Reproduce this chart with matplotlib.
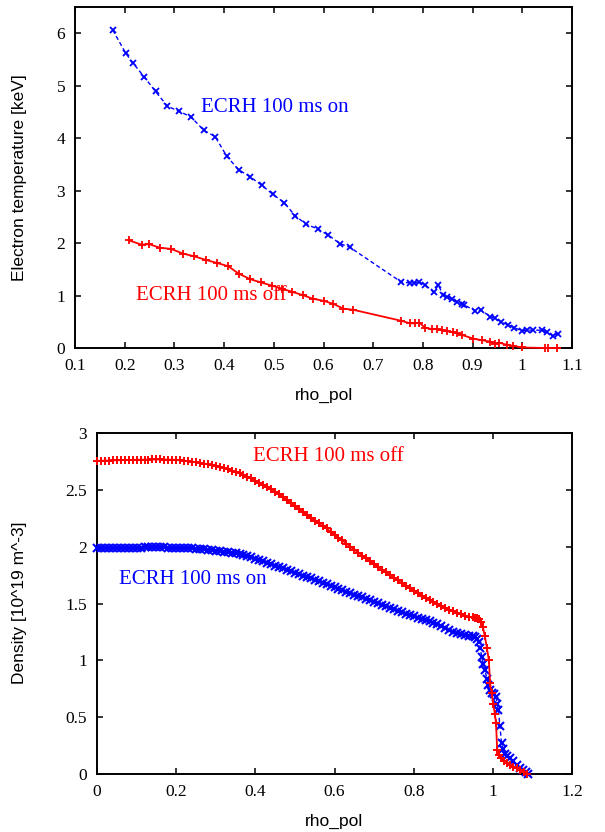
import numpy as np
import matplotlib
matplotlib.use("Agg")
import matplotlib.pyplot as plt

# ---------------- electron temperature profiles ----------------
te_on_rho = [0.176, 0.202, 0.216, 0.239, 0.262, 0.286, 0.309, 0.333, 0.359, 0.382,
             0.405, 0.429, 0.453, 0.476, 0.498, 0.521, 0.543, 0.565, 0.588, 0.610,
             0.633, 0.653, 0.756, 0.774, 0.782, 0.793, 0.804, 0.822, 0.831, 0.841,
             0.849, 0.858, 0.868, 0.878, 0.883, 0.905, 0.916, 0.936, 0.945, 0.957,
             0.971, 0.983, 0.999, 1.009, 1.021, 1.039, 1.049, 1.061, 1.072]
te_on = [6.06, 5.62, 5.44, 5.17, 4.89, 4.61, 4.51, 4.41, 4.15, 4.03,
         3.66, 3.40, 3.26, 3.10, 2.93, 2.77, 2.52, 2.36, 2.27, 2.15,
         1.99, 1.92, 1.26, 1.24, 1.24, 1.25, 1.21, 1.06, 1.20, 1.01,
         0.98, 0.94, 0.88, 0.84, 0.82, 0.71, 0.72, 0.60, 0.57, 0.50,
         0.44, 0.39, 0.33, 0.34, 0.34, 0.34, 0.31, 0.23, 0.27]

te_off_rho = [0.209, 0.234, 0.249, 0.271, 0.293, 0.317, 0.339, 0.363, 0.386, 0.408,
              0.429, 0.453, 0.474, 0.496, 0.517, 0.537, 0.558, 0.578, 0.600, 0.620,
              0.640, 0.659, 0.756, 0.774, 0.784, 0.793, 0.804, 0.818, 0.828, 0.838,
              0.848, 0.860, 0.869, 0.878, 0.901, 0.918, 0.936, 0.945, 0.954, 0.969,
              0.982, 0.999, 1.046, 1.052, 1.069]
te_off = [2.05, 1.97, 1.98, 1.91, 1.89, 1.80, 1.75, 1.68, 1.62, 1.56,
          1.42, 1.31, 1.25, 1.19, 1.13, 1.07, 1.01, 0.94, 0.90, 0.84,
          0.75, 0.73, 0.52, 0.47, 0.47, 0.48, 0.39, 0.36, 0.36, 0.34,
          0.32, 0.30, 0.28, 0.25, 0.18, 0.15, 0.12, 0.08, 0.10, 0.06,
          0.04, 0.01, 0.0, 0.0, 0.0]

# ---------------- density profiles ----------------
core_rho = list(np.round(np.arange(0.0, 0.951, 0.01), 2))

ne_off_core = [2.755, 2.756, 2.757, 2.758, 2.759, 2.760, 2.761, 2.762, 2.763, 2.764,
               2.765, 2.765, 2.766, 2.766, 2.767, 2.767, 2.767, 2.766, 2.766, 2.765,
               2.763, 2.760, 2.757, 2.753, 2.748, 2.743, 2.737, 2.731, 2.724, 2.717,
               2.709, 2.701, 2.692, 2.681, 2.669, 2.657, 2.645, 2.631, 2.617, 2.600,
               2.580, 2.563, 2.545, 2.525, 2.505, 2.483, 2.460, 2.435, 2.410, 2.383,
               2.355, 2.330, 2.305, 2.280, 2.255, 2.230, 2.205, 2.180, 2.160, 2.132,
               2.105, 2.080, 2.055, 2.027, 2.000, 1.974, 1.948, 1.922, 1.897, 1.872,
               1.847, 1.822, 1.798, 1.774, 1.750, 1.726, 1.703, 1.680, 1.657, 1.634,
               1.612, 1.591, 1.570, 1.550, 1.530, 1.512, 1.495, 1.478, 1.462, 1.447,
               1.432, 1.418, 1.405, 1.394, 1.385, 1.378]
ne_off_edge_rho = [0.955, 0.96, 0.965, 0.97, 0.975, 0.98, 0.985, 0.99, 0.993, 0.997,
                   1.001, 1.005, 1.008, 1.011, 1.015, 1.02, 1.027, 1.035, 1.043, 1.052,
                   1.06, 1.069, 1.078, 1.086]
ne_off_edge = [1.376, 1.372, 1.36, 1.335, 1.29, 1.21, 1.11, 1.00, 0.80, 0.71,
               0.62, 0.53, 0.45, 0.21, 0.17, 0.14, 0.115, 0.094, 0.08, 0.064,
               0.05, 0.035, 0.018, 0.0]

ne_on_core = [1.985, 1.986, 1.987, 1.988, 1.989, 1.989, 1.990, 1.990, 1.991, 1.991,
              1.992, 1.992, 1.993, 1.993, 1.993, 1.993, 1.993, 1.993, 1.992, 1.991,
              1.990, 1.989, 1.987, 1.985, 1.984, 1.982, 1.980, 1.977, 1.974, 1.970,
              1.966, 1.962, 1.957, 1.952, 1.947, 1.941, 1.935, 1.927, 1.918, 1.907,
              1.895, 1.883, 1.871, 1.858, 1.846, 1.833, 1.821, 1.808, 1.796, 1.783,
              1.771, 1.758, 1.746, 1.733, 1.721, 1.708, 1.696, 1.683, 1.670, 1.657,
              1.644, 1.631, 1.618, 1.605, 1.592, 1.579, 1.566, 1.553, 1.540, 1.527,
              1.514, 1.501, 1.488, 1.475, 1.462, 1.449, 1.437, 1.424, 1.412, 1.400,
              1.388, 1.376, 1.365, 1.353, 1.342, 1.330, 1.318, 1.300, 1.283, 1.267,
              1.252, 1.241, 1.232, 1.225, 1.218, 1.212]
ne_on_edge_rho = [0.955, 0.96, 0.965, 0.968, 0.972, 0.976, 0.98, 0.985, 0.989, 0.993,
                  0.997, 1.002, 1.008, 1.011, 1.014, 1.018, 1.022, 1.026, 1.031, 1.037,
                  1.043, 1.05, 1.06, 1.068, 1.077, 1.083, 1.09]
ne_on_edge = [1.205, 1.19, 1.16, 1.11, 1.03, 0.97, 0.915, 0.84, 0.78, 0.74,
              0.71, 0.70, 0.68, 0.62, 0.56, 0.42, 0.27, 0.22, 0.18, 0.16,
              0.14, 0.11, 0.08, 0.055, 0.035, 0.02, 0.0]

te_xticks = [0.1, 0.2, 0.3, 0.4, 0.5, 0.6, 0.7, 0.8, 0.9, 1.0, 1.1]
te_xticklabels = ["0.1", "0.2", "0.3", "0.4", "0.5", "0.6", "0.7", "0.8", "0.9", "1", "1.1"]
te_yticks = [0, 1, 2, 3, 4, 5, 6]
ne_xticks = [0, 0.2, 0.4, 0.6, 0.8, 1.0, 1.2]
ne_xticklabels = ["0", "0.2", "0.4", "0.6", "0.8", "1", "1.2"]
ne_yticks = [0, 0.5, 1, 1.5, 2, 2.5, 3]
ne_yticklabels = ["0", "0.5", "1", "1.5", "2", "2.5", "3"]

BLUE = "#0000ff"
RED = "#ff0000"
SERIF = "Liberation Serif"
SANS = "Liberation Sans"

W, H = 605, 832
fig = plt.figure(figsize=(W / 100, H / 100), dpi=100)


def frame(ax):
    for s in ax.spines.values():
        s.set_linewidth(1.4)
    ax.tick_params(direction="in", length=4.5, width=1.1, top=True, right=True,
                   labelsize=12.5, pad=7)
    for lab in ax.get_xticklabels() + ax.get_yticklabels():
        lab.set_fontfamily(SERIF)


# top panel: electron temperature
ax1 = fig.add_axes([75 / W, 1 - 348 / H, (572 - 75) / W, (348 - 7) / H])
ax1.plot(te_on_rho, te_on, color=BLUE, lw=1.0, dashes=(3, 2), marker="x",
         ms=5, mew=1.3, clip_on=False, zorder=3)
ax1.plot(te_off_rho, te_off, color=RED, lw=1.3, marker="+", ms=6, mew=1.3,
         clip_on=False, zorder=3)
ax1.set_xlim(0.1, 1.1)
ax1.set_ylim(0, 6.5)
ax1.set_xticks(te_xticks)
ax1.set_xticklabels(te_xticklabels)
ax1.set_yticks(te_yticks)
ax1.set_yticklabels([str(v) for v in te_yticks])
frame(ax1)
ax1.set_xlabel("rho_pol", fontfamily=SANS, fontsize=12.5, labelpad=10)
ax1.text(0.3535, 4.59, "ECRH 100 ms on", color=BLUE, fontfamily=SERIF,
         fontsize=15, ha="left", va="center")
ax1.text(0.222, 1.01, "ECRH 100 ms off", color=RED, fontfamily=SERIF,
         fontsize=15, ha="left", va="center")

# bottom panel: density
ax2 = fig.add_axes([97 / W, 1 - 774 / H, (572 - 97) / W, (774 - 433) / H])
ax2.plot(core_rho + ne_on_edge_rho, ne_on_core + ne_on_edge, color=BLUE, lw=1.0,
         dashes=(3, 2), marker="x", ms=5.5, mew=1.5, clip_on=False, zorder=3)
ax2.plot(core_rho + ne_off_edge_rho, ne_off_core + ne_off_edge, color=RED, lw=1.3,
         marker="+", ms=5.5, mew=1.4, clip_on=False, zorder=4)
ax2.set_xlim(0, 1.2)
ax2.set_ylim(0, 3)
ax2.set_xticks(ne_xticks)
ax2.set_xticklabels(ne_xticklabels)
ax2.set_yticks(ne_yticks)
ax2.set_yticklabels(ne_yticklabels)
frame(ax2)
ax2.set_xlabel("rho_pol", fontfamily=SANS, fontsize=12.5, labelpad=10)
ax2.text(0.395, 2.79, "ECRH 100 ms off", color=RED, fontfamily=SERIF,
         fontsize=15, ha="left", va="center")
ax2.text(0.0556, 1.707, "ECRH 100 ms on", color=BLUE, fontfamily=SERIF,
         fontsize=15, ha="left", va="center")

# y-axis titles share one left column
fig.text(20 / W, 1 - 178 / H, "Electron temperature [keV]", rotation=90,
         fontfamily=SANS, fontsize=12.5, ha="center", va="center")
fig.text(20 / W, 1 - 603 / H, "Density [10^19 m^-3]", rotation=90,
         fontfamily=SANS, fontsize=12.5, ha="center", va="center")

fig.savefig("out.png", dpi=100)
